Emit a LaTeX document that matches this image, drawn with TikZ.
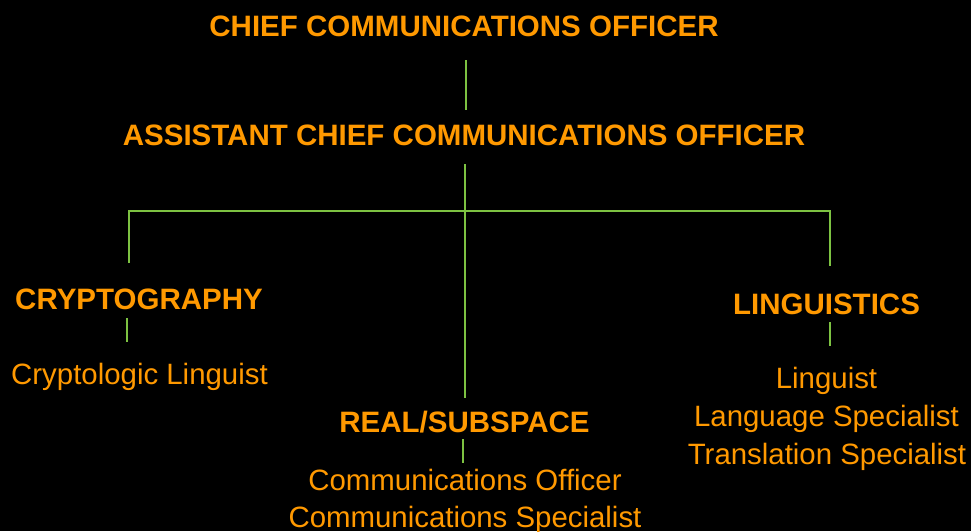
\documentclass[tikz,border=0pt]{standalone}
\usepackage{fontspec}
\setmainfont{Liberation Sans}
\definecolor{org}{HTML}{FF9900}
\definecolor{grn}{HTML}{7DC242}
\begin{document}
\begin{tikzpicture}[x=1pt,y=-1pt,
  title/.style={text=org,font=\fontsize{29.5}{35}\selectfont\bfseries,anchor=base,inner sep=0pt},
  item/.style={text=org,font=\fontsize{29.4}{35}\selectfont,anchor=base,inner sep=0pt},
  link/.style={draw=grn,line width=2.2pt},
  thin/.style={draw=grn,line width=1.8pt}]
\fill[black] (0,0) rectangle (971,531);
\useasboundingbox (0,0) rectangle (971,531);
% texts
\node[title] (cco) at (464,36) {CHIEF COMMUNICATIONS OFFICER};
\node[title] (acco) at (464,145) {ASSISTANT CHIEF COMMUNICATIONS OFFICER};
\node[title] (cry) at (139,309) {CRYPTOGRAPHY};
\node[item] (cryl) at (139.5,384) {Cryptologic Linguist};
\node[title] (real) at (464.5,432) {REAL/SUBSPACE};
\node[item] (co) at (465,490) {Communications Officer};
\node[item] (cs) at (465,527) {Communications Specialist};
\node[title] (lin) at (826.5,314) {LINGUISTICS};
\node[item] (ling) at (826.5,388) {Linguist};
\node[item] (lang) at (826.5,426) {Language Specialist};
\node[item] (tran) at (827,464) {Translation Specialist};
% connector points
\coordinate (c1a) at (466,60);
\coordinate (c1b) at (466,110);
\coordinate (top) at (465,164);
\coordinate (bus) at (465,211);
\coordinate (busL) at (129,211);
\coordinate (busR) at (830,211);
\coordinate (endL) at (129,263);
\coordinate (endR) at (830,266);
\coordinate (endM) at (465,398);
\coordinate (s1a) at (127,318);
\coordinate (s1b) at (127,342);
\coordinate (s2a) at (463,439);
\coordinate (s2b) at (463,463);
\coordinate (s3a) at (830,322);
\coordinate (s3b) at (830,346);
% connectors
\draw[link] (c1a) -- (c1b);
\draw[link] (top) -- (bus) -- (endM);
\draw[link] (endL) -- (busL) -- (busR) -- (endR);
\draw[thin] (s1a) -- (s1b);
\draw[thin] (s2a) -- (s2b);
\draw[thin] (s3a) -- (s3b);
\end{tikzpicture}
\end{document}
